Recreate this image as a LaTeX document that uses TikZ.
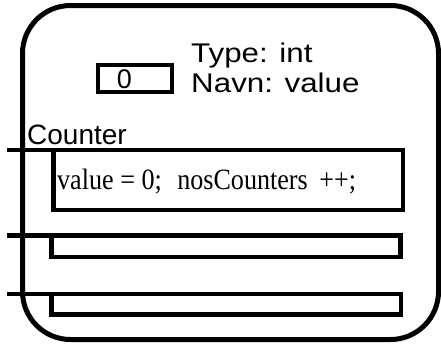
\documentclass[tikz,border=0pt]{standalone}
\usepackage{fontspec}
\setmainfont{Liberation Serif}
\newfontfamily\labelfont{Liberation Sans}
\begin{document}
\begin{tikzpicture}[x=1pt,y=-1pt,
  frame/.style={draw, line width=5pt, rounded corners=48pt, inner sep=0pt},
  slot/.style={draw, line width=4.6pt, inner sep=0pt},
  valbox/.style={draw, line width=4pt, inner sep=0pt},
  stub/.style={line width=4.6pt},
  sanslabel/.style={font=\labelfont\fontsize{27}{30}\selectfont, inner sep=0pt},
  codetext/.style={font=\fontsize{29.5}{32}\selectfont, inner sep=0pt}]
\useasboundingbox (0,0) rectangle (441,343);

% object frame
\node[frame, minimum width=416pt, minimum height=334pt] (object) at (230.5,172.5) {};

% variable cell with its value
\node[valbox, minimum width=74.5pt, minimum height=27pt] (cell) at (134.75,78.5) {};
\node[sanslabel, anchor=base] (zero) at (124.5,88) {0};
\node[sanslabel, anchor=base west, xscale=1.16] (type) at (191,62) {Type: int};
\node[sanslabel, anchor=base west, xscale=1.16] (name) at (191,92) {Navn: value};

% constructor and methods
\node[sanslabel, anchor=base west, font=\labelfont\fontsize{28}{30}\selectfont] (ctorname) at (27,144) {Counter};
\node[slot, minimum width=349.5pt, minimum height=60pt] (ctor) at (228.25,180) {};
\node[codetext, anchor=base west, xscale=0.885] (body) at (57,189.5)
  {value = 0;\hspace{17.5pt}nosCounters\hspace{13pt}++;};
\node[slot, minimum width=349pt, minimum height=21.5pt] (m1) at (226,246.25) {};
\node[slot, minimum width=349.5pt, minimum height=20.5pt] (m2) at (226.25,304.25) {};

% entry stubs
\coordinate (s0) at (7,150);
\coordinate (s1) at (7,235.5);
\coordinate (s2) at (7,294);
\draw[stub] (s0) -- (s0 -| ctor.north west) -- ++(14,0);
\draw[stub] (s1) -- (s1 -| m1.north west) -- ++(16,0);
\draw[stub] (s2) -- (s2 -| m2.north west) -- ++(16,0);
\end{tikzpicture}
\end{document}
